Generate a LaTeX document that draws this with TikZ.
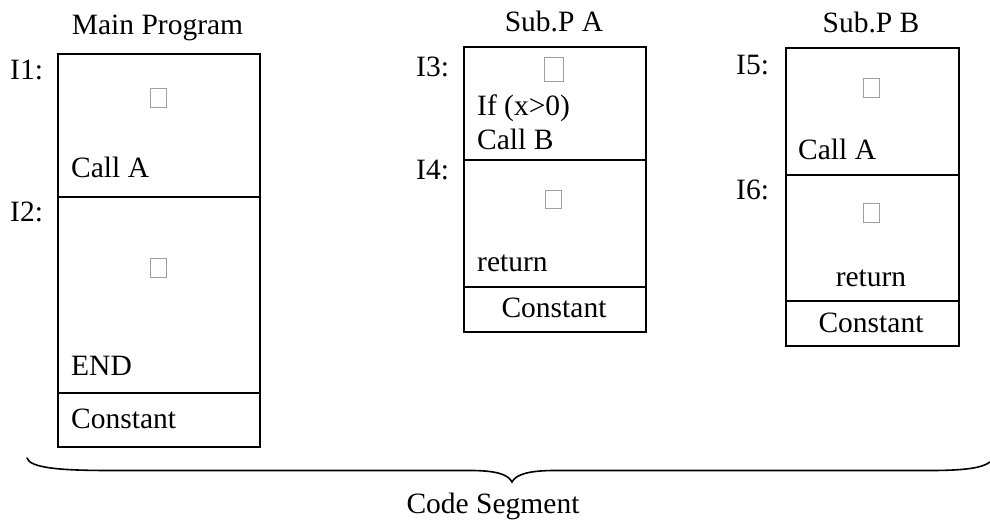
\documentclass[tikz,border=0pt]{standalone}
\usepackage{fontspec}
\setmainfont{Liberation Serif}
\begin{document}
\begin{tikzpicture}[x=1pt,y=-1pt,
  txt/.style={inner sep=0pt,font=\fontsize{29.5}{34}\selectfont},
  cell/.style={draw,inner sep=0pt,anchor=north west},
  glyphbox/.style={draw=gray!75,line width=0.9pt,inner sep=0pt,minimum width=16pt,minimum height=19pt}]
\useasboundingbox (0,0) rectangle (990,521);

% ---- Main Program ----
\begin{scope}[line width=2.1pt]
\node[cell,minimum width=202pt,minimum height=143pt] (m1) at (57,53) {};
\node[cell,minimum width=202pt,minimum height=196pt] (m2) at (57,196) {};
\node[cell,minimum width=202pt,minimum height=54pt] (m3) at (57,392) {};
\end{scope}
\node[txt,anchor=base] (mt) at (157.5,35) {Main Program};
\node[txt,anchor=base west] (i1) at (10,80) {I1:};
\node[txt,anchor=base west] (i2) at (10,222) {I2:};
\node[glyphbox] (mg1) at (158,97.5) {};
\node[glyphbox] (mg2) at (158,267.5) {};
\node[txt,anchor=base west] (mcall) at (71,178) {Call A};
\node[txt,anchor=base west] (mend) at (71,375) {END};
\node[txt,anchor=base west] (mconst) at (71,428) {Constant};

% ---- Sub.P A ----
\begin{scope}[line width=1.7pt]
\node[cell,minimum width=182pt,minimum height=113pt] (a1) at (463,46) {};
\node[cell,minimum width=182pt,minimum height=127pt] (a2) at (463,159) {};
\node[cell,minimum width=182pt,minimum height=45pt] (a3) at (463,286) {};
\end{scope}
\node[txt,anchor=base] (at) at (554,32) {Sub.P A};
\node[txt,anchor=base west] (i3) at (416,77) {I3:};
\node[txt,anchor=base west] (i4) at (416,180) {I4:};
\node[glyphbox,minimum width=19pt,minimum height=24pt] (ag1) at (553.8,69) {};
\node[glyphbox,minimum height=18pt] (ag2) at (553.7,199) {};
\node[txt,anchor=base west] (aif) at (477,116) {If (x>0)};
\node[txt,anchor=base west] (acall) at (477,150) {Call B};
\node[txt,anchor=base west] (aret) at (477,272) {return};
\node[txt,anchor=base] (aconst) at (554,317) {Constant};

% ---- Sub.P B ----
\begin{scope}[line width=2pt]
\node[cell,minimum width=173pt,minimum height=127pt] (b1) at (785,47) {};
\node[cell,minimum width=173pt,minimum height=126pt] (b2) at (785,174) {};
\node[cell,minimum width=173pt,minimum height=45pt] (b3) at (785,300) {};
\end{scope}
\node[txt,anchor=base] (bt) at (871,33) {Sub.P B};
\node[txt,anchor=base west] (i5) at (736,75) {I5:};
\node[txt,anchor=base west] (i6) at (736,200) {I6:};
\node[glyphbox] (bg1) at (871,87.5) {};
\node[glyphbox] (bg2) at (871,212.5) {};
\node[txt,anchor=base west] (bcall) at (798,160) {Call A};
\node[txt,anchor=base] (bret) at (871,287) {return};
\node[txt,anchor=base] (bconst) at (871,332) {Constant};

% ---- brace over the whole code segment ----
\coordinate (brL) at (27,458);
\coordinate (brT) at (512,482);
\coordinate (brR) at (990,462);
\draw[line width=1.6pt,line cap=round]
  (brL) .. controls (30,468) and (60,470.5) .. (110,470.5) -- (470,470.5)
  .. controls (495,470.5) and (508,474) .. (brT)
  .. controls (516,474) and (530,470.5) .. (555,470.5) -- (930,470.5)
  .. controls (965,470.5) and (982,468) .. (brR);
\node[txt,anchor=base] (seg) at (493,513.5) {Code Segment};
\end{tikzpicture}
\end{document}
